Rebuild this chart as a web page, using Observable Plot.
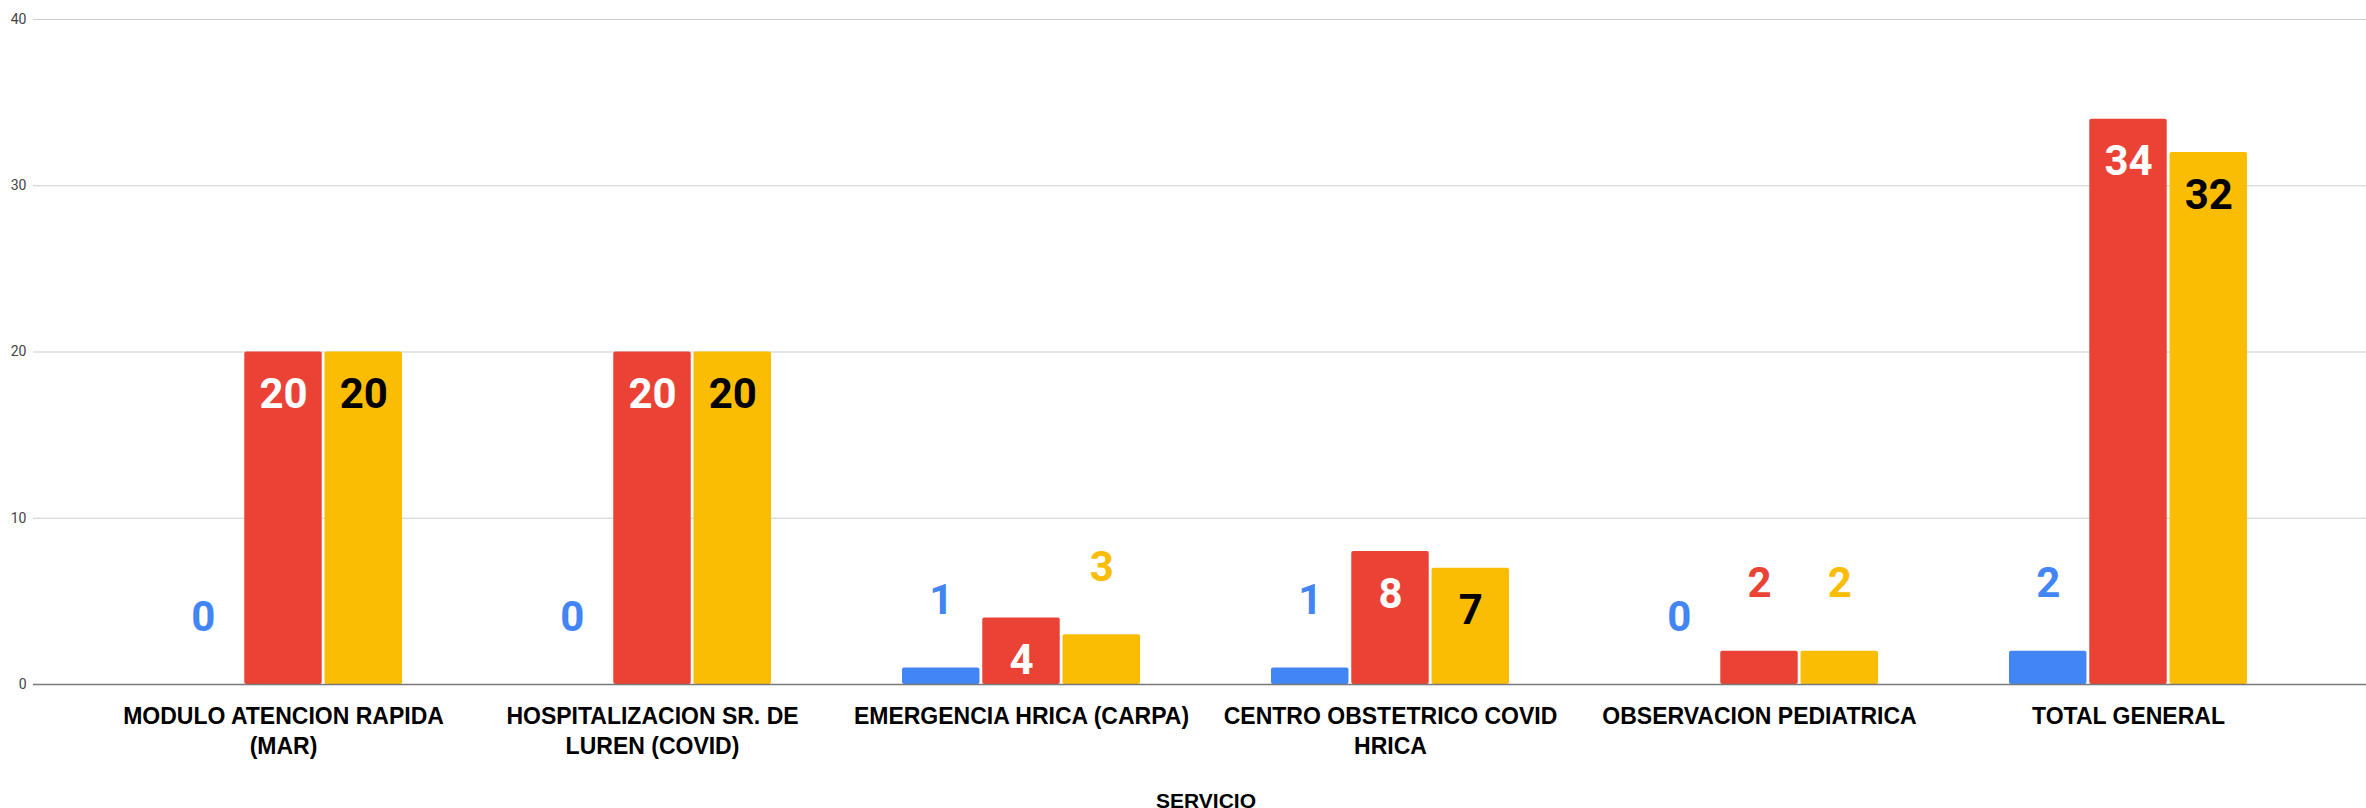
<!DOCTYPE html>
<html>
<head>
<meta charset="utf-8">
<script src="https://cdn.jsdelivr.net/npm/d3@7"></script>
<script src="https://cdn.jsdelivr.net/npm/@observablehq/plot@0.6"></script>
<style>
  html, body { margin: 0; padding: 0; background: #fff; }
  svg { display: block; }
</style>
</head>
<body>
<script>
const categories = [
  "MODULO ATENCION RAPIDA (MAR)",
  "HOSPITALIZACION SR. DE LUREN (COVID)",
  "EMERGENCIA HRICA (CARPA)",
  "CENTRO OBSTETRICO COVID HRICA",
  "OBSERVACION PEDIATRICA",
  "TOTAL GENERAL"
];
const tickLabels = [
  "MODULO ATENCION RAPIDA\n(MAR)",
  "HOSPITALIZACION SR. DE\nLUREN (COVID)",
  "EMERGENCIA HRICA (CARPA)",
  "CENTRO OBSTETRICO COVID\nHRICA",
  "OBSERVACION PEDIATRICA",
  "TOTAL GENERAL"
];
const seriesNames = ["Serie 1", "Serie 2", "Serie 3"];
const serie1 = [0, 0, 1, 1, 0, 2];
const serie2 = [20, 20, 4, 8, 2, 34];
const serie3 = [20, 20, 3, 7, 2, 32];
const yTicks = [0, 10, 20, 30, 40];
const xTitle = "SERVICIO";

const colors = ["#4285F4", "#EA4335", "#FBBC04"];
const insideColors = ["#ffffff", "#ffffff", "#000000"];
const values = [serie1, serie2, serie3];

const rows = [];
seriesNames.forEach((s, si) => {
  categories.forEach((c, ci) => rows.push({cat: c, series: si, value: values[si][ci]}));
});

// layout constants
const W = 2366, H = 808;
const bandW = 238.3, gap = 2.5;
const barW = (bandW - 2 * gap) / 3;
const offs = [-(barW + gap), 0, barW + gap];
const insideMin = 4;

const marks = [
  Plot.ruleY(yTicks.filter(d => d !== 0), {y: d => d, stroke: "#cccccc", strokeWidth: 1}),
  Plot.text(yTicks, {y: d => d, text: d => String(d), frameAnchor: "left", textAnchor: "end", dx: -7, fontSize: 14, fill: "#444", fontFamily: "Roboto"})
];

seriesNames.forEach((s, si) => {
  const data = rows.filter(r => r.series === si);
  const insL = si === 0 ? 0 : si === 1 ? barW + gap : 2 * (barW + gap);
  const insR = bandW - insL - barW;
  marks.push(Plot.barY(data, {x: "cat", y: "value", fill: colors[si], insetLeft: insL, insetRight: insR, rx: 2}));
});

marks.push(Plot.ruleY([0], {stroke: "#777", strokeWidth: 1.6}));

seriesNames.forEach((s, si) => {
  const data = rows.filter(r => r.series === si);
  marks.push(Plot.text(data.filter(r => r.value >= insideMin), {
    x: "cat", y: "value", text: d => String(d.value), dx: offs[si], dy: 56,
    lineAnchor: "bottom", fill: insideColors[si], fontSize: 42, fontWeight: "bold", fontFamily: "Roboto"
  }));
  marks.push(Plot.text(data.filter(r => r.value < insideMin), {
    x: "cat", y: "value", text: d => String(d.value), dx: offs[si], dy: -54,
    lineAnchor: "bottom", fill: colors[si], fontSize: 42, fontWeight: "bold", fontFamily: "Roboto"
  }));
});

marks.push(Plot.text(categories, {
  x: d => d, text: (d, i) => tickLabels[i], frameAnchor: "bottom", lineAnchor: "top", dy: 18,
  fontSize: 23, fontWeight: "bold", fontFamily: "Liberation Sans, Arial, sans-serif", lineHeight: 1.3, fill: "#000"
}));
marks.push(Plot.text([xTitle], {
  frameAnchor: "bottom", lineAnchor: "bottom", dy: 123, dx: 6,
  fontSize: 21, fontWeight: "bold", fontFamily: "Liberation Sans, Arial, sans-serif", fill: "#000"
}));

const chart = Plot.plot({
  width: W,
  height: H,
  marginLeft: 33,
  marginRight: 0,
  marginTop: 19,
  marginBottom: 124,
  style: {background: "#fff", fontFamily: "Roboto", overflow: "visible"},
  x: {domain: categories, paddingInner: 0.355, paddingOuter: 0.3345, align: 0.5255, axis: null},
  y: {domain: [0, 40], axis: null},
  marks
});
document.body.appendChild(chart);
</script>
</body>
</html>
